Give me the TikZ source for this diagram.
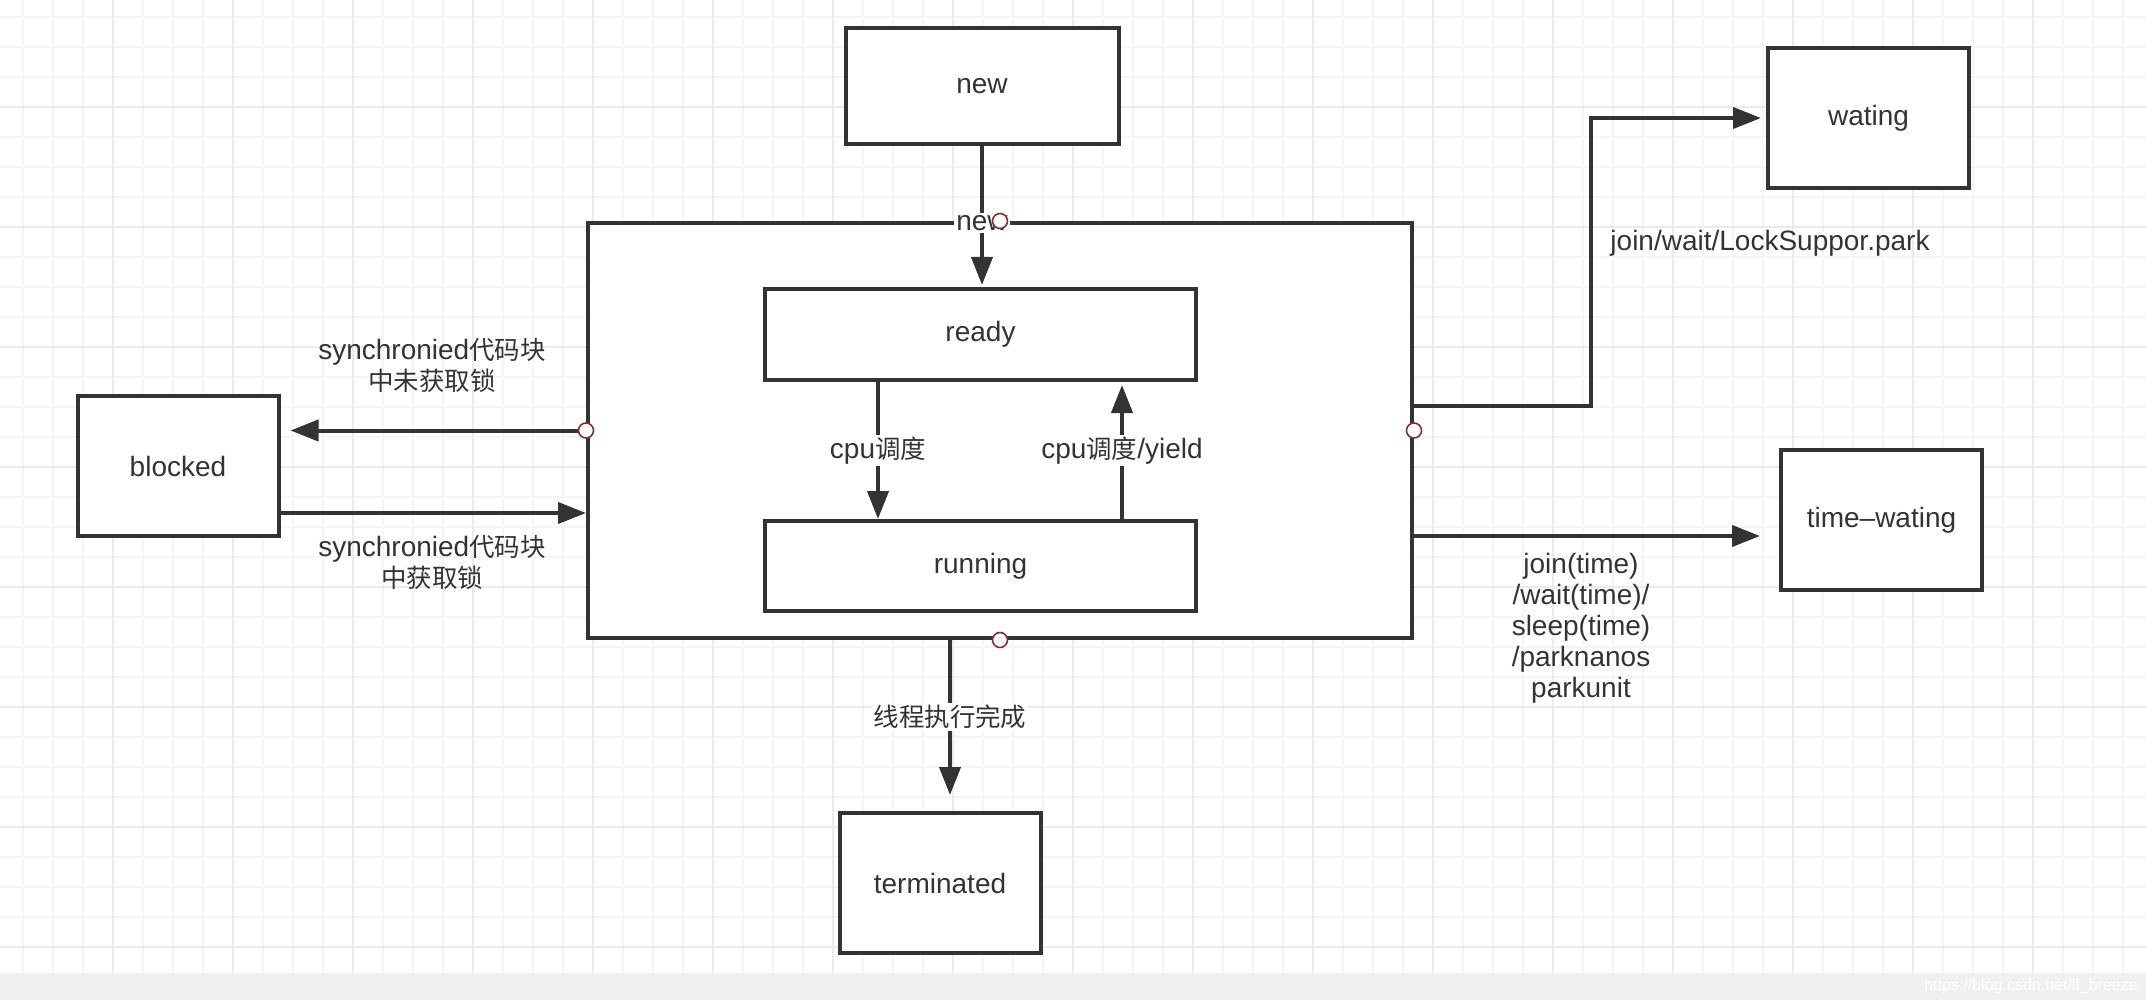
\documentclass[tikz,border=0pt]{standalone}
\usepackage{fontspec}
\setmainfont{Liberation Sans}
\newfontfamily\cjk[Scale=0.91]{Noto Sans CJK SC}
\usetikzlibrary{arrows.meta,positioning}
\definecolor{ink}{HTML}{333333}
\definecolor{port}{HTML}{8B2E2E}
\definecolor{gridminor}{HTML}{F5F5F5}
\definecolor{gridmajor}{HTML}{EBEBEB}
\definecolor{band}{HTML}{F0F0F0}

\begin{document}
\begin{tikzpicture}[x=0.5pt,y=-0.5pt,>={Triangle[length=14pt,width=10.5pt]},
font=\fontsize{14}{15.5}\selectfont,text=ink,
box/.style={draw=ink,line width=2pt,fill=white,minimum width=100.5pt,minimum height=70pt,align=center,inner sep=0pt},
wire/.style={draw=ink,line width=2pt},
lbl/.style={fill=white,inner sep=1pt,align=center},
note/.style={align=center,inner sep=0pt},
joint/.style={circle,draw=port,line width=0.8pt,fill=white,minimum size=7.5pt,inner sep=0pt}]
\useasboundingbox (0,0) rectangle (2146,1000);
% background grid
\foreach \gx in {23,53,...,2146} \draw[gridminor,line width=0.9pt] (\gx,0) -- (\gx,973);
\foreach \gy in {17,47,...,973} \draw[gridminor,line width=0.9pt] (0,\gy) -- (2146,\gy);
\foreach \gx in {113,233,...,2146} \draw[gridmajor,line width=0.9pt] (\gx,0) -- (\gx,973);
\foreach \gy in {107,227,...,973} \draw[gridmajor,line width=0.9pt] (0,\gy) -- (2146,\gy);
\fill[band] (0,973) rectangle (2146,1000);
\node[text=white,font=\fontsize{8}{9}\selectfont] (mark) at (2031,986) {https://blog.csdn.net/lf\_breeze};
% states
\node[box,minimum width=412pt,minimum height=207.5pt] (thread) at (1000,430.5) {};
\node[box,minimum width=136.5pt,minimum height=58pt] (new) at (982,86) {new};
\node[box,minimum width=215.5pt,minimum height=45.5pt] (ready) at (980.5,334.5) {ready};
\node[box,minimum width=215.5pt,minimum height=45pt,below=68.5pt of ready] (running) {running};
\node[box] (blocked) at (178,466) {blocked};
\node[box] (wating) at (1868.5,118) {wating};
\node[box] (timewait) at (1881.5,520) {time–wating};
\node[box] (terminated) at (940,883) {terminated};
% transitions
\draw[->,wire,shorten >=1pt] (new.south) -- (new.south |- ready.north) node[lbl,pos=.545]{new};
\draw[->,wire] ([xshift=-51.25pt]ready.south) -- ([xshift=-51.25pt]running.north) node[lbl,midway]{cpu{\cjk 调度}};
\draw[->,wire,shorten >=1.5pt] ([xshift=70.75pt]running.north) -- ([xshift=70.75pt]ready.south) node[lbl,midway]{cpu{\cjk 调度}/yield};
\draw[->,wire,shorten >=5pt] (thread.west) -- (thread.west -| blocked.east);
\draw[->,wire] ([yshift=-23.5pt]blocked.east) -- ([yshift=-23.5pt]blocked.east -| thread.west);
\draw[->,wire,shorten >=2.5pt] ([yshift=12.25pt]thread.east) -- ++(88.25pt,0) |- (wating.west);
\draw[->,wire,shorten >=9.5pt] ([yshift=-52.75pt]thread.east) -- ([yshift=-52.75pt]thread.east -| timewait.west);
\draw[->,wire,shorten >=8pt] ([xshift=-25pt]thread.south) -- ([xshift=-25pt]thread.south |- terminated.north) node[lbl,pos=.45]{{\cjk 线程执行完成}};
% labels
\node[note] (lockwait) at (432,365) {synchronied{\cjk 代码块}\\{\cjk 中未获取锁}};
\node[note] (lockget) at (432,562) {synchronied{\cjk 代码块}\\{\cjk 中获取锁}};
\node[note] (parklbl) at (1770,243) {join/wait/LockSuppor.park};
\node[note] (timedlbl) at (1581,628) {join(time)\\/wait(time)/\\sleep(time)\\/parknanos\\parkunit};
\foreach \side in {north,south,west,east} \node[joint] (j-\side) at (thread.\side) {};
\end{tikzpicture}
\end{document}
